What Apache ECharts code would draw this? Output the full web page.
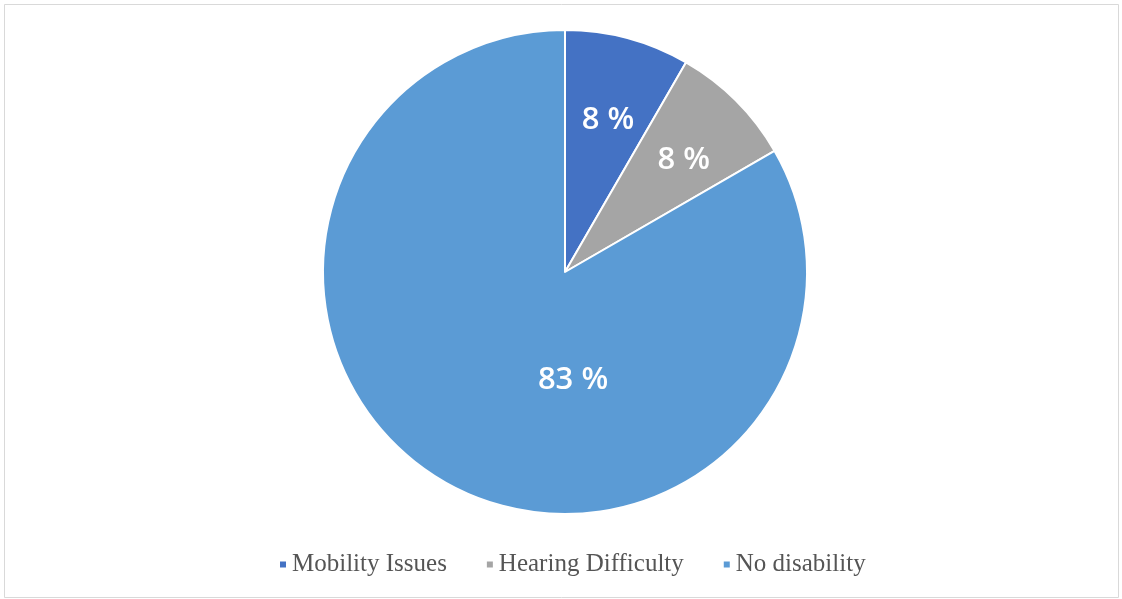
<!DOCTYPE html>
<html><head><meta charset="utf-8">
<script src="https://cdn.jsdelivr.net/npm/echarts@6/dist/echarts.min.js"></script>
<style>html,body{margin:0;padding:0;background:#fff}#c{width:1122px;height:599px}</style>
</head><body><div id="c"></div>
<script>
const categories = ['Mobility Issues', 'Hearing Difficulty', 'No disability'];
const values = [8.33, 8.33, 83.33];
const colors = ['#4472C4', '#A5A5A5', '#5B9BD5'];
const labelShift = [[11, -32], [31, -24], [70, 1]];

const chart = echarts.init(document.getElementById('c'), null, {renderer: 'canvas'});
chart.setOption({
  animation: false,
  backgroundColor: '#fff',
  color: colors,
  graphic: [{type: 'rect', shape: {x: 4.5, y: 4.5, width: 1114, height: 593}, style: {fill: 'none', stroke: '#d9d9d9', lineWidth: 1}}],
  legend: {
    data: categories, bottom: 17, left: 273, itemWidth: 8, itemHeight: 8, itemGap: 38, icon: 'rect',
    textStyle: {fontFamily: 'Liberation Serif', fontSize: 25, color: '#555555'}
  },
  series: [{
    type: 'pie', center: [565, 272], radius: 242, startAngle: 90, clockwise: true,
    itemStyle: {borderColor: '#fff', borderWidth: 2},
    label: {position: 'inside', color: '#fff', fontFamily: 'Open Sans', fontWeight: 600, fontSize: 31,
      formatter: p => Math.round(p.value) + ' %'},
    labelLayout: p => ({dx: labelShift[p.dataIndex][0], dy: labelShift[p.dataIndex][1]}),
    data: categories.map((c, i) => ({name: c, value: values[i]}))
  }]
});
</script></body></html>
